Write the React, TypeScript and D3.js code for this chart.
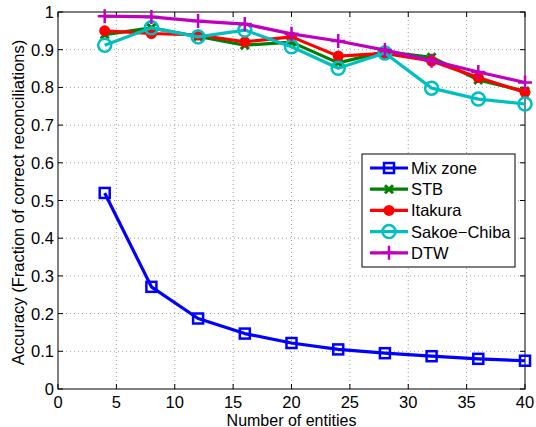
import { useEffect, useRef } from "react"
import * as d3 from "d3"

const entities = [4, 8, 12, 16, 20, 24, 28, 32, 36, 40]
const mixZone = [0.52, 0.271, 0.187, 0.147, 0.122, 0.105, 0.095, 0.087, 0.08, 0.075]
const stb = [0.94, 0.958, 0.935, 0.912, 0.92, 0.865, 0.895, 0.88, 0.82, 0.79]
const itakura = [0.95, 0.943, 0.939, 0.921, 0.934, 0.883, 0.89, 0.87, 0.826, 0.787]
const sakoeChiba = [0.912, 0.958, 0.934, 0.952, 0.908, 0.851, 0.891, 0.798, 0.769, 0.756]
const dtw = [0.989, 0.987, 0.976, 0.968, 0.942, 0.923, 0.899, 0.871, 0.841, 0.813]
const xTicks = [0, 5, 10, 15, 20, 25, 30, 35, 40]
const yTicks = [0, 0.1, 0.2, 0.3, 0.4, 0.5, 0.6, 0.7, 0.8, 0.9, 1]

const series = [
  { name: "Mix zone", values: mixZone, color: "#0000ff", marker: "square" },
  { name: "STB", values: stb, color: "#008000", marker: "x" },
  { name: "Itakura", values: itakura, color: "#ff0000", marker: "dot" },
  { name: "Sakoe\u2212Chiba", values: sakoeChiba, color: "#00bfbf", marker: "circle" },
  { name: "DTW", values: dtw, color: "#bf00bf", marker: "plus" },
]

const FONT = "'Liberation Sans', Arial, sans-serif"
const FS = 16.5

function drawMarker(g: d3.Selection<SVGGElement, unknown, null, undefined>, kind: string, x: number, y: number, color: string) {
  if (kind === "square") {
    g.append("rect").attr("x", x - 5).attr("y", y - 5).attr("width", 10).attr("height", 10)
      .attr("fill", "none").attr("stroke", color).attr("stroke-width", 2.5)
  } else if (kind === "x") {
    g.append("path").attr("d", `M${x - 4},${y - 4}L${x + 4},${y + 4}M${x - 4},${y + 4}L${x + 4},${y - 4}`)
      .attr("stroke", color).attr("stroke-width", 3)
  } else if (kind === "dot") {
    g.append("circle").attr("cx", x).attr("cy", y).attr("r", 5.5).attr("fill", color)
  } else if (kind === "circle") {
    g.append("circle").attr("cx", x).attr("cy", y).attr("r", 6.5)
      .attr("fill", "none").attr("stroke", color).attr("stroke-width", 2.5)
  } else if (kind === "plus") {
    g.append("path").attr("d", `M${x - 7},${y}L${x + 7},${y}M${x},${y - 7}L${x},${y + 7}`)
      .attr("stroke", color).attr("stroke-width", 2.5)
  }
}

export default function App() {
  const svgRef = useRef<SVGSVGElement>(null)

  useEffect(() => {
    if (!svgRef.current) return
    const svg = d3.select(svgRef.current)
    svg.selectAll("*").remove()

    const left = 58, right = 525, top = 12, bottom = 389
    const x = d3.scaleLinear().domain([0, 40]).range([left, right])
    const y = d3.scaleLinear().domain([0, 1]).range([bottom, top])

    svg.append("rect").attr("width", 536).attr("height", 427).attr("fill", "#fff")

    // grid
    const grid = svg.append("g").attr("stroke", "#888").attr("stroke-width", 0.8).attr("stroke-dasharray", "1,3")
    xTicks.slice(1, -1).forEach((t) => {
      grid.append("line").attr("x1", x(t)).attr("x2", x(t)).attr("y1", top).attr("y2", bottom)
    })
    yTicks.slice(1, -1).forEach((t) => {
      grid.append("line").attr("x1", left).attr("x2", right).attr("y1", y(t)).attr("y2", y(t))
    })

    // box and inward ticks
    svg.append("rect").attr("x", left).attr("y", top).attr("width", right - left).attr("height", bottom - top)
      .attr("fill", "none").attr("stroke", "#000").attr("stroke-width", 1)
    const ticks = svg.append("g").attr("stroke", "#000").attr("stroke-width", 1)
    xTicks.forEach((t) => {
      ticks.append("line").attr("x1", x(t)).attr("x2", x(t)).attr("y1", bottom).attr("y2", bottom - 5)
      ticks.append("line").attr("x1", x(t)).attr("x2", x(t)).attr("y1", top).attr("y2", top + 5)
    })
    yTicks.forEach((t) => {
      ticks.append("line").attr("x1", left).attr("x2", left + 5).attr("y1", y(t)).attr("y2", y(t))
      ticks.append("line").attr("x1", right).attr("x2", right - 5).attr("y1", y(t)).attr("y2", y(t))
    })

    const labels = svg.append("g").attr("font-family", FONT).attr("font-size", FS).attr("fill", "#000")
    xTicks.forEach((t) => {
      labels.append("text").attr("x", x(t)).attr("y", bottom + 19).attr("text-anchor", "middle").text(t)
    })
    yTicks.forEach((t) => {
      labels.append("text").attr("x", left - 4).attr("y", y(t) + 6).attr("text-anchor", "end").text(String(t))
    })
    labels.append("text").attr("x", (left + right) / 2).attr("y", 425.5).attr("text-anchor", "middle")
      .attr("font-size", 16).text("Number of entities")
    labels.append("text").attr("transform", `translate(24,${(top + bottom) / 2 + 2}) rotate(-90)`)
      .attr("text-anchor", "middle").text("Accuracy (Fraction of correct reconciliations)")

    // series
    const line = d3.line<number>().x((_, i) => x(entities[i])).y((d) => y(d))
    series.forEach((s) => {
      const g = svg.append("g")
      g.append("path").datum(s.values).attr("d", line).attr("fill", "none")
        .attr("stroke", s.color).attr("stroke-width", 3.2).attr("stroke-linejoin", "round")
      s.values.forEach((v, i) => drawMarker(g, s.marker, x(entities[i]), y(v), s.color))
    })

    // legend
    const lx = 362, ly = 154, lw = 153, lh = 113
    const legend = svg.append("g")
    legend.append("rect").attr("x", lx).attr("y", ly).attr("width", lw).attr("height", lh)
      .attr("fill", "#fff").attr("stroke", "#000").attr("stroke-width", 1)
    series.forEach((s, i) => {
      const cy = ly + 14 + i * 21.2
      legend.append("line").attr("x1", lx + 8).attr("x2", lx + 46).attr("y1", cy).attr("y2", cy)
        .attr("stroke", s.color).attr("stroke-width", 3.2)
      drawMarker(legend, s.marker, lx + 27, cy, s.color)
      legend.append("text").attr("x", lx + 49).attr("y", cy + 6).attr("font-family", FONT)
        .attr("font-size", FS).text(s.name)
    })
  }, [])

  return <svg ref={svgRef} width={536} height={427} style={{ display: "block", position: "absolute", left: 0, top: 0 }} />
}
